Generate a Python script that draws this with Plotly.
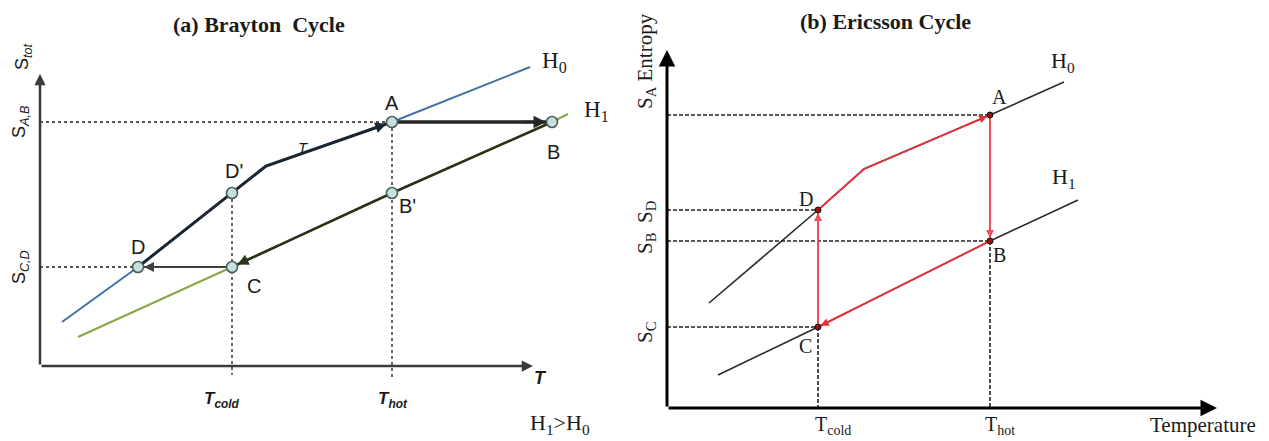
import plotly.graph_objects as go

# ---------------- Panel (a): Brayton cycle (chart units: T horizontal, S vertical)
a_pt_names = ["A", "B", "B'", "C", "D", "D'"]
a_pt_T = [352, 512, 352, 192, 98, 192]
a_pt_S = [244, 244, 173, 99, 99, 173]
a_H0_T = [22, 98, 192, 226, 352, 490]
a_H0_S = [44, 99, 173, 200, 244, 299]
a_H1_T = [38, 192, 352, 512, 528]
a_H1_S = [29, 99, 173, 244, 252]
a_T_cold, a_T_hot = 192, 352
a_S_AB, a_S_CD = 244, 99
a_kink = (226, 200)
a_T_max, a_S_max = 493, 292

# ---------------- Panel (b): Ericsson cycle
b_pt_names = ["A", "B", "C", "D"]
b_pt_T = [323, 323, 151, 151]
b_pt_S = [293, 167, 81, 198]
b_H0_T = [42, 151, 197, 323, 397]
b_H0_S = [105, 198, 239, 293, 326]
b_H1_T = [51, 151, 323, 411]
b_H1_S = [33, 81, 167, 208]
b_T_cold, b_T_hot = 151, 323
b_kink = (197, 239)
b_T_max, b_S_max = 550, 358

W, H = 1269, 441
SPLIT = 640

fig = go.Figure()

def line(xs, ys, color, width, dash="solid", ax="a"):
    xa, ya = ("x", "y") if ax == "a" else ("x2", "y2")
    fig.add_trace(go.Scatter(x=xs, y=ys, mode="lines", xaxis=xa, yaxis=ya,
                             line=dict(color=color, width=width, dash=dash),
                             hoverinfo="skip", showlegend=False))

ann = []

def arrow(head, start, color, width, ax="a", standoff=0, frac=1.0, size=1.0, style=2):
    xr, yr = ("x", "y") if ax == "a" else ("x2", "y2")
    tail = (head[0] + frac * (start[0] - head[0]), head[1] + frac * (start[1] - head[1]))
    ann.append(dict(x=head[0], y=head[1], ax=tail[0], ay=tail[1], xref=xr, yref=yr,
                    axref=xr, ayref=yr, showarrow=True, arrowhead=style, arrowsize=size,
                    arrowwidth=width, arrowcolor=color, standoff=standoff, text=""))

def text(x, y, s, size, family, color="#1a1a1a", ax="a", angle=0):
    xr, yr = ("x", "y") if ax == "a" else ("x2", "y2")
    ann.append(dict(x=x, y=y, xref=xr, yref=yr, text=s, showarrow=False, textangle=angle,
                    font=dict(size=size, family=family, color=color),
                    xanchor="center", yanchor="middle"))

SANS = "Liberation Sans, Arial, sans-serif"
SERIF = "Liberation Serif, Times New Roman, serif"

# ===== Panel (a)
A = (a_pt_T[0], a_pt_S[0]); B = (a_pt_T[1], a_pt_S[1]); Bp = (a_pt_T[2], a_pt_S[2])
C = (a_pt_T[3], a_pt_S[3]); D = (a_pt_T[4], a_pt_S[4]); Dp = (a_pt_T[5], a_pt_S[5])

# dotted guides
line([0, A[0]], [a_S_AB, a_S_AB], "#555555", 2, "dot")
line([0, D[0]], [a_S_CD, a_S_CD], "#555555", 2, "dot")
line([a_T_cold, a_T_cold], [Dp[1], -9], "#666666", 2, "dot")
line([a_T_hot, a_T_hot], [A[1], -12], "#666666", 2, "dot")
# isofield lines
line(a_H0_T, a_H0_S, "#3f73a3", 2)
line(a_H1_T, a_H1_S, "#86a845", 2)
# cycle path
line([D[0], Dp[0], a_kink[0], A[0]], [D[1], Dp[1], a_kink[1], A[1]], "#1b2633", 3)
line([A[0], B[0]], [A[1], B[1]], "#262626", 3.5)
line([B[0], Bp[0], C[0]], [B[1], Bp[1], C[1]], "#28331a", 2.5)
line([C[0], D[0]], [C[1], D[1]], "#404040", 2)
# points
fig.add_trace(go.Scatter(x=a_pt_T, y=a_pt_S, mode="markers", xaxis="x", yaxis="y",
                         marker=dict(size=11, color="#c3e2de", line=dict(color="#4d5c5c", width=1.6)),
                         hoverinfo="skip", showlegend=False))
# arrowheads
arrow(B, A, "#262626", 2.5, standoff=6, frac=0.2)
arrow(C, Bp, "#28331a", 2.2, standoff=6, frac=0.3)
arrow(D, C, "#404040", 2, standoff=6, frac=0.3)
arrow(A, a_kink, "#1b2633", 2.2, standoff=6, frac=0.25)
# axes
arrow((0, a_S_max), (0, 0), "#3a3a3a", 2.5, frac=1.0, size=0.9)
arrow((a_T_max, 0), (0, 0), "#3a3a3a", 2.5, frac=1.0, size=0.9)

text(219, 342, "<b>(a) Brayton  Cycle</b>", 22, SERIF)
text(A[0], A[1] + 19, "A", 20, SANS)
text(B[0] + 1, B[1] - 30, "B", 20, SANS)
text(Bp[0] + 15, Bp[1] - 13, "B'", 20, SANS)
text(Dp[0] + 2, Dp[1] + 22, "D'", 20, SANS)
text(D[0], D[1] + 20, "D", 20, SANS)
text(C[0] + 22, C[1] - 19, "C", 20, SANS)
text(263, 219, "<i>T</i>", 15, SANS)
text(514, 304, "H<sub>0</sub>", 23, SERIF)
text(556, 255, "H<sub>1</sub>", 23, SERIF)
text(a_T_cold - 10, -34, "<i><b>T<sub>cold</sub></b></i>", 17, SANS)
text(a_T_hot + 1, -34, "<i><b>T<sub>hot</sub></b></i>", 17, SANS)
text(a_T_max + 7, -12, "<i><b>T</b></i>", 18, SANS)
text(520, -58, "H<sub>1</sub>&gt;H<sub>0</sub>", 22, SERIF)
text(-17, 309, "S<sub><i>tot</i></sub>", 18, SANS, angle=-90)
text(-20, a_S_AB, "S<sub><i>A,B</i></sub>", 18, SANS, angle=-90)
text(-20, a_S_CD, "S<sub><i>C,D</i></sub>", 18, SANS, angle=-90)

# ===== Panel (b)
bA = (b_pt_T[0], b_pt_S[0]); bB = (b_pt_T[1], b_pt_S[1])
bC = (b_pt_T[2], b_pt_S[2]); bD = (b_pt_T[3], b_pt_S[3])
DASH = "4px,2px"
for p in (bA, bD, bB, bC):
    line([0, p[0]], [p[1], p[1]], "#222222", 1.6, DASH, ax="b")
line([b_T_cold, b_T_cold], [bC[1], 0], "#222222", 1.6, DASH, ax="b")
line([b_T_hot, b_T_hot], [bB[1], 0], "#222222", 1.6, DASH, ax="b")
line(b_H0_T, b_H0_S, "#2a2a2a", 1.6, ax="b")
line(b_H1_T, b_H1_S, "#2a2a2a", 1.6, ax="b")
RED = "#e8313a"
line([bD[0], b_kink[0], bA[0]], [bD[1], b_kink[1], bA[1]], RED, 1.8, ax="b")
line([bA[0], bB[0]], [bA[1], bB[1]], "#f0505a", 2, ax="b")
line([bB[0], bC[0]], [bB[1], bC[1]], RED, 1.8, ax="b")
line([bC[0], bD[0]], [bC[1], bD[1]], "#f0505a", 2, ax="b")
fig.add_trace(go.Scatter(x=b_pt_T, y=b_pt_S, mode="markers", xaxis="x2", yaxis="y2",
                         marker=dict(size=6, color="#9a1010", line=dict(color="#111111", width=1)),
                         hoverinfo="skip", showlegend=False))
arrow(bB, bA, "#f0505a", 1.6, ax="b", standoff=3, frac=0.2)
arrow(bC, bB, RED, 1.6, ax="b", standoff=3, frac=0.2)
arrow(bD, bC, "#f0505a", 1.6, ax="b", standoff=3, frac=0.2)
arrow(bA, b_kink, RED, 1.6, ax="b", standoff=3, frac=0.2)
arrow((0, b_S_max), (0, 0), "#000000", 3, ax="b", frac=1.0, size=1.1)
arrow((b_T_max, 0), (0, 0), "#000000", 3, ax="b", frac=1.0, size=1.1)

text(219, 387, "<b>(b) Ericsson Cycle</b>", 22, SERIF, ax="b")
text(bA[0] + 10, bA[1] + 18, "A", 20, SERIF, ax="b")
text(bB[0] + 10, bB[1] - 14, "B", 20, SERIF, ax="b")
text(bC[0] - 12, bC[1] - 19, "C", 20, SERIF, ax="b")
text(bD[0] - 12, bD[1] + 11, "D", 20, SERIF, ax="b")
text(396, 346, "H<sub>0</sub>", 22, SERIF, ax="b")
text(397, 230, "H<sub>1</sub>", 22, SERIF, ax="b")
text(b_T_cold + 15, -17, "T<sub>cold</sub>", 20, SERIF, ax="b")
text(b_T_hot + 10, -17, "T<sub>hot</sub>", 20, SERIF, ax="b")
text(536, -17, "Temperature", 21, SERIF, ax="b")
text(-21, 347, "S<sub>A</sub> Entropy", 21, SERIF, ax="b", angle=-90)
text(-21, bD[1] - 1, "S<sub>D</sub>", 21, SERIF, ax="b", angle=-90)
text(-21, bB[1] - 2, "S<sub>B</sub>", 21, SERIF, ax="b", angle=-90)
text(-21, bC[1] - 5, "S<sub>C</sub>", 21, SERIF, ax="b", angle=-90)

hidden = dict(visible=False, showgrid=False, zeroline=False, fixedrange=True)
fig.update_layout(
    width=W, height=H, margin=dict(l=0, r=0, t=0, b=0),
    paper_bgcolor="white", plot_bgcolor="white", showlegend=False,
    xaxis=dict(domain=[0, SPLIT / W], range=[-40, SPLIT - 40], anchor="y", **hidden),
    yaxis=dict(domain=[0, 1], range=[-75, H - 75], anchor="x", **hidden),
    xaxis2=dict(domain=[SPLIT / W, 1], range=[-27, W - SPLIT - 27], anchor="y2", **hidden),
    yaxis2=dict(domain=[0, 1], range=[-33, H - 33], anchor="x2", **hidden),
    annotations=ann,
)
fig.write_html("out.html", config={"staticPlot": True},
               post_script="document.body.style.margin='0';document.body.style.overflow='hidden';")
